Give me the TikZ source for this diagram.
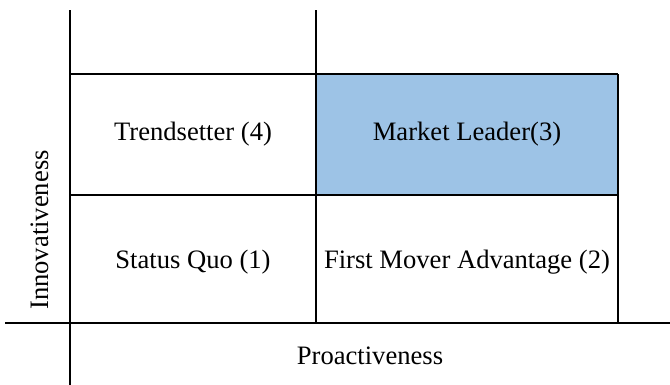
\documentclass[tikz,border=0pt]{standalone}
\usepackage{fontspec}
\setmainfont{Liberation Serif}
\definecolor{leaderblue}{HTML}{9DC3E6}

\begin{document}
\begin{tikzpicture}[x=0.5pt, y=0.5pt, line width=0.8pt,
		every node/.style={inner sep=0pt, font=\fontsize{13.3}{16}\selectfont}]
		% page frame: (0,0) rectangle (670,385)
		\useasboundingbox (0, 0) rectangle (670, 385);
		% shaded quadrant first, so the grid lines sit on top of it
		\fill[leaderblue] (316, 190) rectangle (618, 311);
		% axes
		\draw (70, 0) -- (70, 375);
		\draw (5, 62) -- (670, 62);
		% grid lines
		\draw (316, 62) -- (316, 375);
		\draw (70, 311) -- (618, 311);
		\draw (70, 190) -- (618, 190);
		\draw (618, 62) -- (618, 311);
		% quadrant labels
		\node (trend) at (193, 251) {Trendsetter (4)};
		\node (leader) at (467, 251) {Market Leader(3)};
		\node (status) at (193, 123) {Status Quo (1)};
		\node (mover) at (467, 123) {First Mover Advantage (2)};
		% axis titles
		\node (proact) at (370, 29) {Proactiveness};
		\node[rotate=90] (innov) at (40, 155) {Innovativeness};
	\end{tikzpicture}
\end{document}
